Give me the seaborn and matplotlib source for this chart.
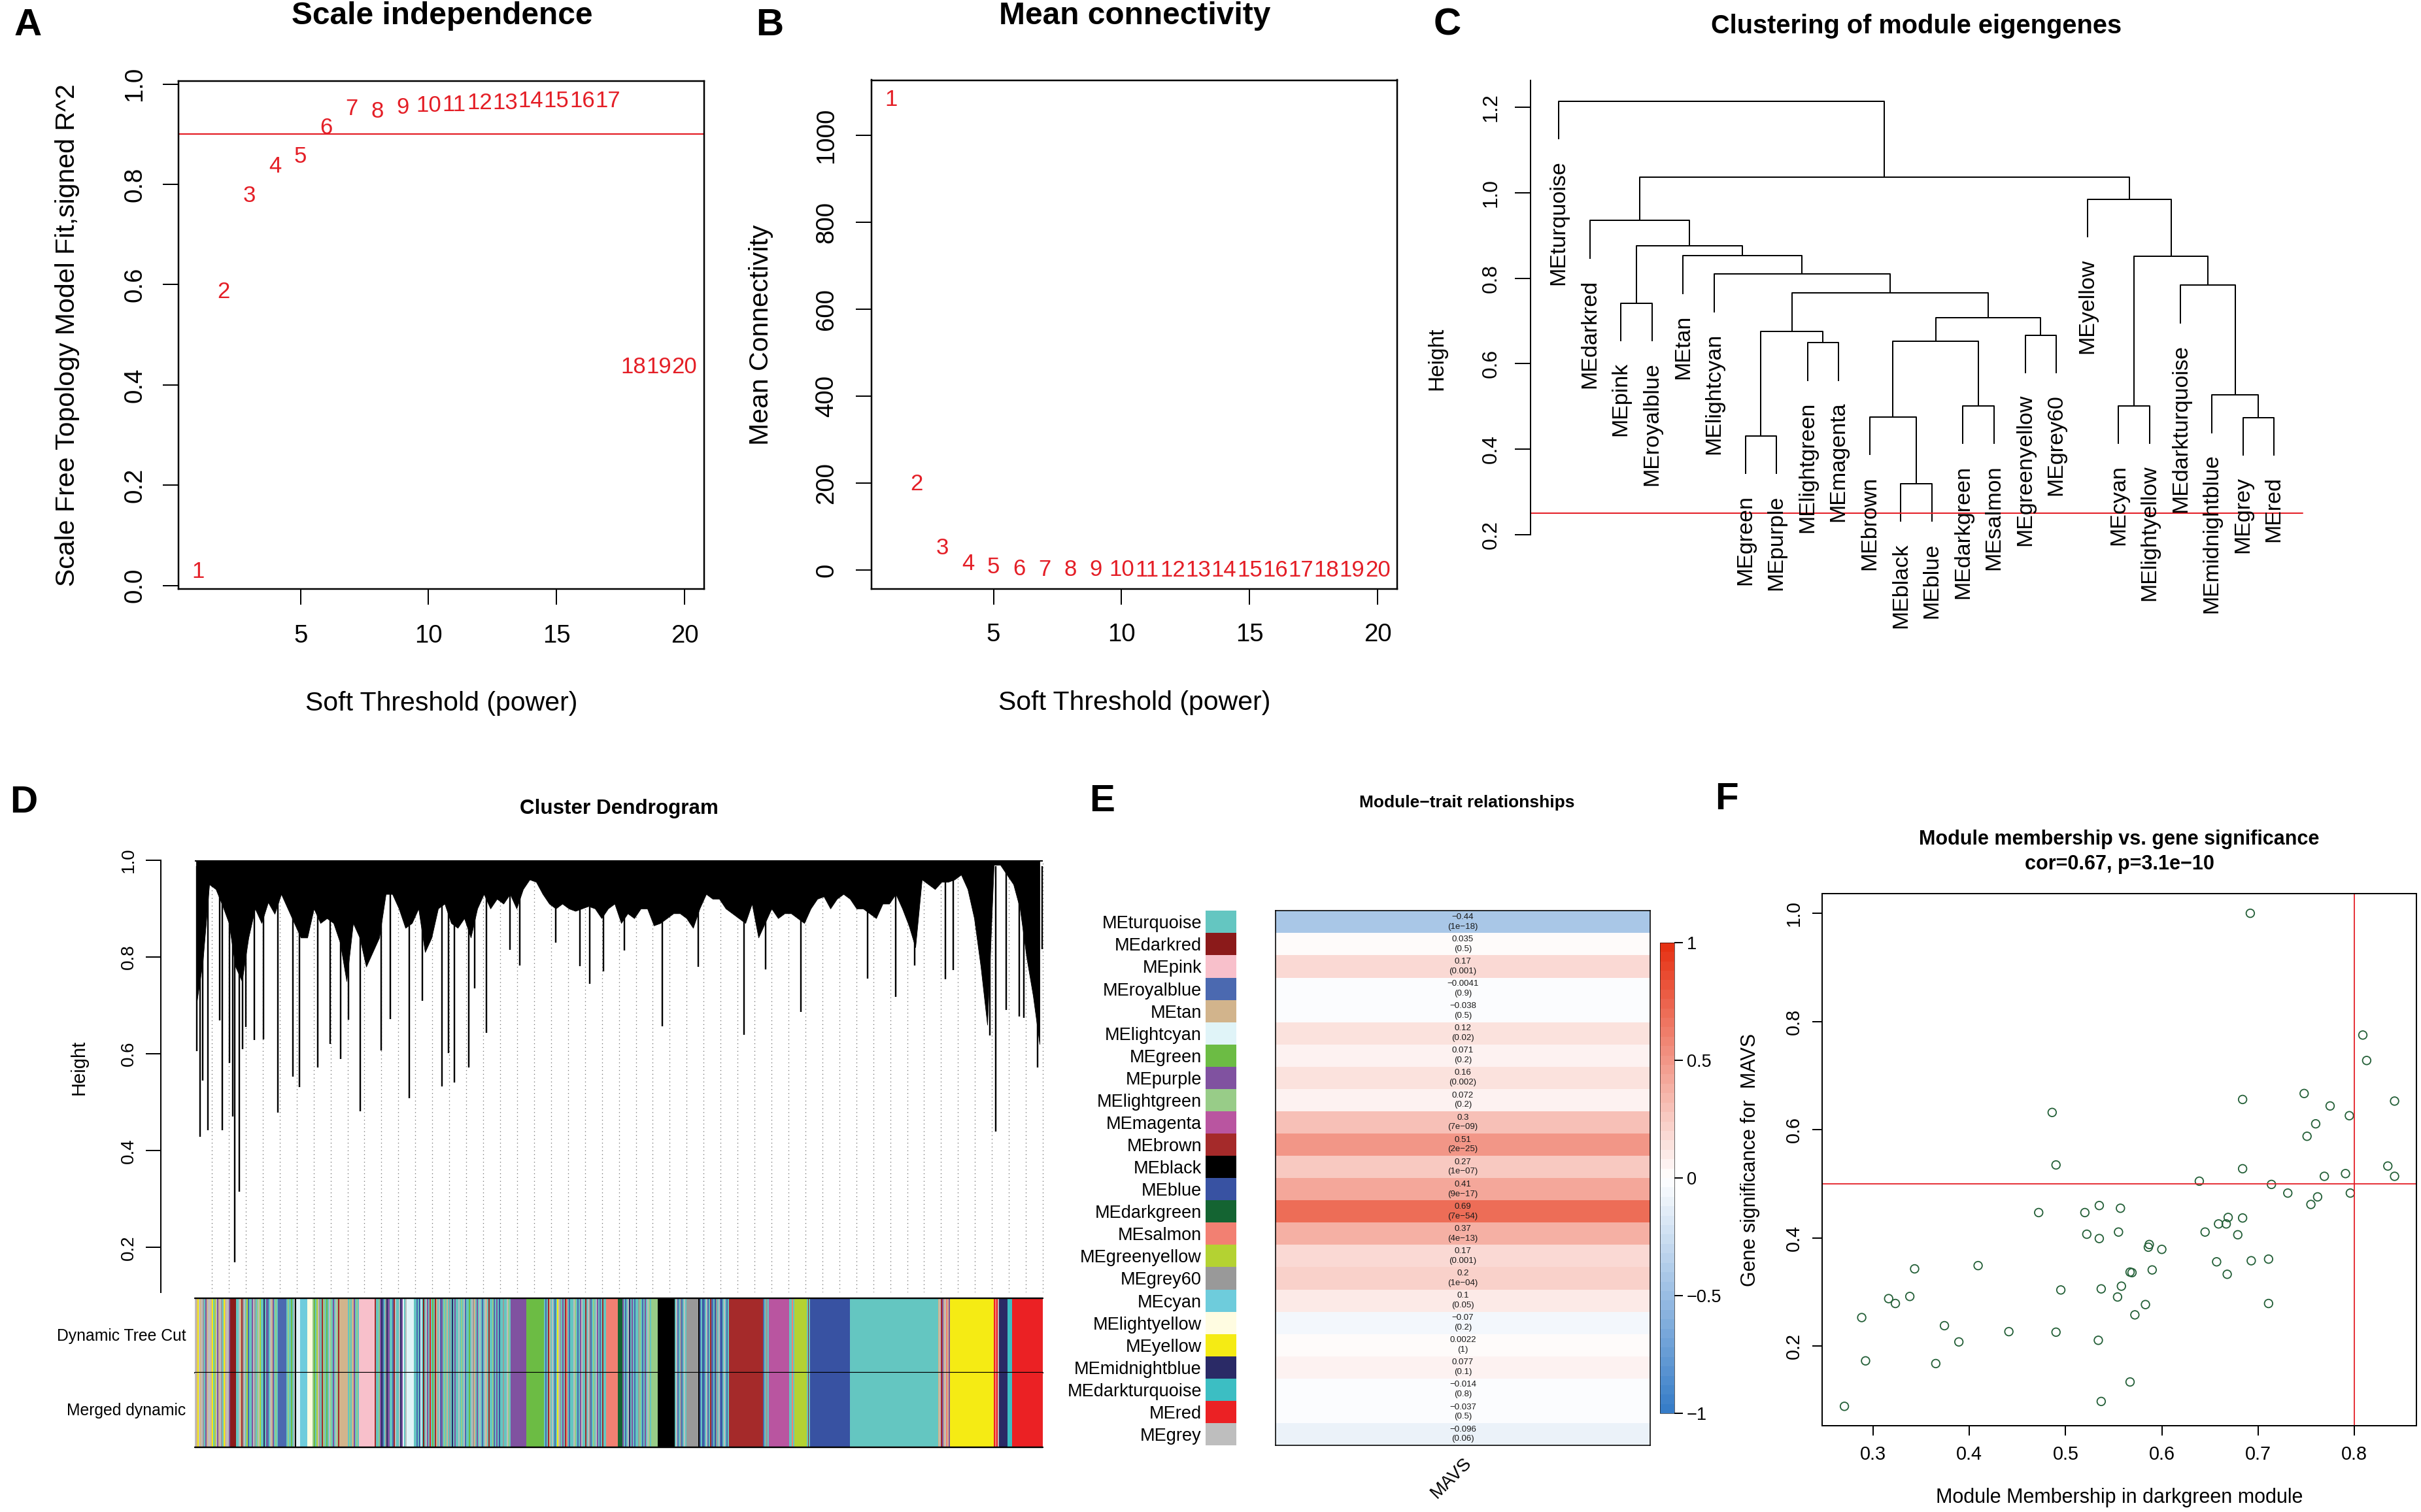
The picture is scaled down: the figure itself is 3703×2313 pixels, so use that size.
import numpy as np
import pandas as pd
import matplotlib
matplotlib.use("Agg")
import matplotlib.pyplot as plt
import seaborn as sns
from matplotlib.colors import ListedColormap

# ============================ DATA ============================
# --- A / B : soft threshold selection ---
POWERS = list(range(1, 21))
SFT_SIGNED_R2 = [0.028, 0.586, 0.777, 0.836, 0.856, 0.913, 0.951, 0.946, 0.954, 0.957,
                 0.959, 0.963, 0.963, 0.967, 0.967, 0.967, 0.967, 0.436, 0.436, 0.436]
R2_CUTOFF = 0.90
MEAN_CONNECTIVITY = [1083, 198, 50, 15, 6.5, 2.2, 1.2, 0.8, 0.6, 0.4,
                     0.3, 0.25, 0.2, 0.15, 0.12, 0.1, 0.08, 0.06, 0.05, 0.04]

# --- C : eigengene clustering (R hclust style merge table) ---
ME_LEAVES = ["MEturquoise", "MEdarkred", "MEpink", "MEroyalblue", "MEtan", "MElightcyan",
             "MEgreen", "MEpurple", "MElightgreen", "MEmagenta", "MEbrown", "MEblack",
             "MEblue", "MEdarkgreen", "MEsalmon", "MEgreenyellow", "MEgrey60", "MEyellow",
             "MEcyan", "MElightyellow", "MEdarkturquoise", "MEmidnightblue", "MEgrey", "MEred"]
ME_MERGE = [(-12, -13), (-7, -8), (-23, -24), (-11, 1), (-19, -20), (-14, -15), (-22, 3),
            (-9, -10), (4, 6), (-16, -17), (2, 8), (9, 10), (-3, -4), (11, 12), (-21, 7),
            (-6, 14), (5, 15), (-5, 16), (13, 18), (-2, 19), (-18, 17), (20, 21), (-1, 22)]
ME_HEIGHTS = [0.319, 0.431, 0.474, 0.475, 0.501, 0.501, 0.527, 0.649, 0.653, 0.667, 0.675,
              0.707, 0.742, 0.766, 0.784, 0.810, 0.852, 0.853, 0.876, 0.935, 0.985, 1.037, 1.215]
ME_CUT_HEIGHT = 0.25

# --- D : gene dendrogram (read approximately) ---
# lower edge of the dense branch mass, sampled evenly along the leaf order
GENE_TREE_PROFILE = [
    0.70, 0.79, 0.95, 0.94, 0.907, 0.87, 0.78, 0.75, 0.84, 0.90, 0.87, 0.913, 0.889, 0.93,
    0.90, 0.87, 0.84, 0.84, 0.90, 0.87, 0.88, 0.87, 0.83, 0.75, 0.87, 0.84, 0.78, 0.81,
    0.84, 0.93, 0.93, 0.90, 0.86, 0.87, 0.90, 0.81, 0.84, 0.90, 0.91, 0.87, 0.86, 0.88,
    0.84, 0.90, 0.93, 0.90, 0.92, 0.91, 0.93, 0.90, 0.94, 0.96, 0.955, 0.93, 0.91, 0.90,
    0.91, 0.90, 0.895, 0.90, 0.905, 0.90, 0.88, 0.90, 0.91,
    0.87, 0.89, 0.88, 0.90, 0.90, 0.865, 0.87, 0.88, 0.89, 0.89, 0.88, 0.86, 0.90, 0.93,
    0.92, 0.92, 0.90, 0.89, 0.88, 0.87, 0.91, 0.84, 0.87, 0.90, 0.88, 0.89, 0.89, 0.88,
    0.87, 0.90, 0.92, 0.925, 0.90, 0.92, 0.93, 0.92, 0.90, 0.90, 0.89, 0.88, 0.91, 0.91,
    0.93, 0.90, 0.865, 0.82, 0.96, 0.95, 0.94, 0.955, 0.955, 0.96, 0.97, 0.94, 0.88, 0.78,
    0.66, 0.99, 0.99, 0.97, 0.95, 0.90, 0.80, 0.72, 0.62]
GENE_PROFILE_SPAN = (0.0015, 0.9961)   # leaf-order fraction covered by the profile samples
GENE_SPIKE_POS = [0.0019, 0.0058, 0.0090, 0.0155, 0.0295, 0.0327, 0.0408, 0.0447, 0.0466,
                  0.0522, 0.0561, 0.0603, 0.0700, 0.0807, 0.0982, 0.1154, 0.1236, 0.1446,
                  0.1599, 0.1716, 0.1814, 0.1950, 0.2193, 0.2307, 0.2527, 0.2686, 0.2917,
                  0.2989, 0.3059, 0.3231, 0.3303, 0.3436, 0.3719, 0.3832, 0.4254, 0.4540,
                  0.4659, 0.4822, 0.5065, 0.5516, 0.5938, 0.6474, 0.6728, 0.7147, 0.7931,
                  0.8267, 0.8490, 0.8853, 0.8942, 0.9374, 0.9446, 0.9568, 0.9719, 0.9775,
                  0.9940, 0.9957, 0.9990]
GENE_SPIKE_HEIGHT = [0.606, 0.429, 0.545, 0.442, 0.669, 0.442, 0.581, 0.470, 0.169, 0.315,
                     0.609, 0.655, 0.628, 0.630, 0.479, 0.553, 0.531, 0.572, 0.621, 0.589,
                     0.670, 0.482, 0.607, 0.672, 0.509, 0.710, 0.532, 0.601, 0.541, 0.572,
                     0.735, 0.643, 0.815, 0.783, 0.829, 0.781, 0.745, 0.770, 0.813, 0.657,
                     0.779, 0.639, 0.774, 0.687, 0.755, 0.717, 0.782, 0.754, 0.773, 0.638,
                     0.440, 0.690, 0.677, 0.674, 0.572, 0.644, 0.816]
N_GUIDES = 50
GENE_TREE_TOP = 0.998

# module colour strip: solid blocks (module, n genes) and mixed runs ("mix", n genes, codes)
DYNAMIC_SEGMENTS = [
    ("mix", 54, "eTyeTe6tuTeeTytYeuTe6tyTeeu"), ("darkred", 9),
    ("mix", 64, "tteTn6etYRttue6tGeYttMtuRteTutGt"), ("royalblue", 13),
    ("mix", 15, "tGtgtek"), ("lightcyan", 6), ("cyan", 11), ("lightyellow", 8),
    ("mix", 41, "GgtYe6tnGtgteGtuteGn"), ("tan", 13), ("mix", 17, "tGtTutGt"), ("pink", 24),
    ("mix", 49, "nttGuMRt6MuttRnetteMuCte"), ("lightcyan", 11),
    ("mix", 148, "ttRtbCtdteutrtgtnTteRutGtTt6tMtuttetGteRttgte6TtutetRteTtnttGRtutbtt6tteGt"),
    ("purple", 24), ("green", 27),
    ("mix", 95, "tRtnTtetRtye6tutnstRtteGtRtuettnte6RtGteutRtntt"), ("salmon", 18),
    ("darkgreen", 7), ("mix", 44, "utRteMtutRtt6GtRtuteGt"), ("lightgreen", 10), ("black", 26),
    ("mix", 18, "teRt6Rtet"), ("grey60", 18), ("mix", 47, "kRtbRteRtnRtb6teRbtetRt"),
    ("brown", 52), ("mix", 11, "Rt6tm"), ("magenta", 29), ("mix", 8, "ttst"),
    ("greenyellow", 19), ("mix", 5, "tnt"), ("blue", 61), ("turquoise", 135),
    ("mix", 18, "TenuTesTu"), ("yellow", 67), ("mix", 8, "rsre"), ("midnightblue", 13),
    ("darkturquoise", 7), ("red", 47)]
MERGED_SEGMENTS = DYNAMIC_SEGMENTS
COLOR_ROW_LABELS = ["Dynamic Tree Cut", "Merged dynamic"]

# --- E : module-trait relationships ---
TRAIT_MODULES = ["MEturquoise", "MEdarkred", "MEpink", "MEroyalblue", "MEtan", "MElightcyan",
                 "MEgreen", "MEpurple", "MElightgreen", "MEmagenta", "MEbrown", "MEblack",
                 "MEblue", "MEdarkgreen", "MEsalmon", "MEgreenyellow", "MEgrey60", "MEcyan",
                 "MElightyellow", "MEyellow", "MEmidnightblue", "MEdarkturquoise", "MEred",
                 "MEgrey"]
TRAIT_COR = [-0.44, 0.035, 0.17, -0.0041, -0.038, 0.12, 0.071, 0.16, 0.072, 0.3, 0.51, 0.27,
             0.41, 0.69, 0.37, 0.17, 0.2, 0.1, -0.07, 0.0022, 0.077, -0.014, -0.037, -0.096]
TRAIT_P = ["1e-18", "0.5", "0.001", "0.9", "0.5", "0.02", "0.2", "0.002", "0.2", "7e-09",
           "2e-25", "1e-07", "9e-17", "7e-54", "4e-13", "0.001", "1e-04", "0.05", "0.2", "1",
           "0.1", "0.8", "0.5", "0.06"]
TRAIT_NAME = "MAVS"

# --- F : module membership vs gene significance ---
MM_DARKGREEN = [0.692, 0.809, 0.813, 0.748, 0.684, 0.842, 0.486, 0.775, 0.795, 0.760, 0.751,
                0.490, 0.684, 0.835, 0.791, 0.769, 0.842, 0.639, 0.714, 0.731, 0.796, 0.762,
                0.755, 0.535, 0.557, 0.472, 0.520, 0.669, 0.684, 0.659, 0.667, 0.645, 0.555,
                0.522, 0.679, 0.535, 0.587, 0.586, 0.600, 0.711, 0.693, 0.657, 0.409, 0.343,
                0.590, 0.567, 0.569, 0.668, 0.558, 0.495, 0.537, 0.338, 0.316, 0.554, 0.323,
                0.583, 0.711, 0.572, 0.288, 0.374, 0.441, 0.490, 0.389, 0.534, 0.292, 0.365,
                0.567, 0.537, 0.270]
GS_MAVS = [1.000, 0.775, 0.728, 0.667, 0.656, 0.653, 0.632, 0.644, 0.626, 0.611, 0.588,
           0.535, 0.528, 0.533, 0.519, 0.514, 0.514, 0.505, 0.499, 0.483, 0.483, 0.476,
           0.462, 0.460, 0.455, 0.447, 0.447, 0.438, 0.437, 0.426, 0.426, 0.411, 0.411,
           0.407, 0.406, 0.399, 0.388, 0.383, 0.379, 0.361, 0.358, 0.356, 0.349, 0.343,
           0.341, 0.337, 0.336, 0.333, 0.311, 0.304, 0.306, 0.292, 0.288, 0.291, 0.279,
           0.277, 0.279, 0.258, 0.253, 0.238, 0.227, 0.226, 0.208, 0.211, 0.173, 0.168,
           0.134, 0.098, 0.089]
MM_CUT = 0.8
GS_CUT = 0.5
F_TITLE = ["Module membership vs. gene significance", "cor=0.67, p=3.1e\u221210"]

# ============================ STYLE ============================
MODULE_COLORS = {
    "turquoise": "#64C6C1", "darkred": "#8B1A1A", "pink": "#F8C0CB", "royalblue": "#4B69B0",
    "tan": "#D2B48C", "lightcyan": "#E0F4F8", "green": "#6CBC44", "purple": "#8052A0",
    "lightgreen": "#98CC88", "magenta": "#B955A0", "brown": "#A52A2A", "black": "#000000",
    "blue": "#3852A2", "darkgreen": "#146432", "salmon": "#F28072", "greenyellow": "#B4D232",
    "grey60": "#999999", "cyan": "#6ECCDC", "lightyellow": "#FFFCE1", "yellow": "#F5EB14",
    "midnightblue": "#2A2A66", "darkturquoise": "#3CBEC3", "red": "#EB2124", "grey": "#BEBEBE"}
CODE = {"t": "turquoise", "b": "blue", "n": "brown", "y": "yellow", "g": "green", "r": "red",
        "k": "black", "p": "pink", "m": "magenta", "u": "purple", "Y": "greenyellow", "T": "tan",
        "s": "salmon", "c": "cyan", "M": "midnightblue", "C": "lightcyan", "6": "grey60",
        "G": "lightgreen", "L": "lightyellow", "R": "royalblue", "d": "darkred",
        "D": "darkgreen", "X": "darkturquoise", "e": "grey"}
RED = "#E41E26"
PT_GREEN = "#235F37"

sns.set_style("ticks", {"axes.edgecolor": "black", "xtick.color": "black",
                        "ytick.color": "black", "text.color": "black"})
plt.rcParams["font.family"] = ["Liberation Sans", "DejaVu Sans"]
plt.rcParams["axes.unicode_minus"] = True

W, H, DPI = 3703, 2313, 100
PT = 72.0 / DPI
fig = plt.figure(figsize=(W / DPI, H / DPI), dpi=DPI)
fig.patch.set_facecolor("white")


def px_axes(l, t, r, b):
    return fig.add_axes([l / W, 1 - b / H, (r - l) / W, (b - t) / H])


def ftext(x, y, s, **kw):
    kw.setdefault("ha", "center")
    kw.setdefault("va", "center")
    fig.text(x / W, 1 - y / H, s, **kw)


def r_axes_style(ax, tick_len, xpad, ypad, labelsize, lw=2.5):
    for s in ax.spines.values():
        s.set_linewidth(lw * PT)
        s.set_color("black")
    ax.tick_params(axis="both", direction="out", length=tick_len * PT, width=2 * PT,
                   labelsize=labelsize, colors="black")
    ax.tick_params(axis="x", pad=xpad * PT, bottom=True)
    ax.tick_params(axis="y", pad=ypad * PT, left=True)
    for lab in ax.get_yticklabels():
        lab.set_rotation(90)
        lab.set_va("center")


def fmt_tick(v, nd):
    return f"{v:.{nd}f}"


# panel letters
for letter, (x, y) in zip("ABCDEF", [(42.5, 39), (1177.6, 39), (2214, 39),
                                     (36.6, 1228), (1686, 1226), (2641, 1223)]):
    ftext(x, y, letter, fontsize=42, fontweight="bold")

# ============================ A ============================
axA = px_axes(273.3, 123.9, 1076.7, 901.2)
for p, v in zip(POWERS, SFT_SIGNED_R2):
    axA.text(p, v, str(p), color=RED, fontsize=25, ha="center", va="center", clip_on=False)
axA.axhline(R2_CUTOFF, color=RED, lw=2.2 * PT)
axA.set_xlim(0.24, 20.76)
axA.set_ylim(-0.0074, 1.0064)
axA.set_xticks([5, 10, 15, 20])
yt = np.round(np.arange(0, 1.01, 0.2), 1)
axA.set_yticks(yt)
axA.set_yticklabels([fmt_tick(v, 1) for v in yt])
r_axes_style(axA, 24, 29.4, 25.2, 27.6)
ftext(676, 24.8, "Scale independence", fontsize=34.5, fontweight="bold")
ftext(675, 1076, "Soft Threshold (power)", fontsize=29.5)
ftext(102.6, 512.5, "Scale Free Topology Model Fit,signed R^2", fontsize=29.5, rotation=90)

# ============================ B ============================
axB = px_axes(1333.1, 122.5, 2136.9, 901.2)
for p, v in zip(POWERS, MEAN_CONNECTIVITY):
    axB.text(p, v, str(p), color=RED, fontsize=25, ha="center", va="center", clip_on=False)
axB.set_xlim(0.24, 20.76)
axB.set_ylim(-43.6, 1127.7)
axB.set_xticks([5, 10, 15, 20])
axB.set_yticks([0, 200, 400, 600, 800, 1000])
r_axes_style(axB, 24, 28, 26.7, 27.6)
ftext(1735.3, 24.8, "Mean connectivity", fontsize=34.5, fontweight="bold")
ftext(1735, 1075, "Soft Threshold (power)", fontsize=29.5)
ftext(1164, 512, "Mean Connectivity", fontsize=29.5, rotation=90)

# ============================ C ============================
axC = px_axes(2341.1, 122.5, 3560, 817.6)
axC.set_xlim(0.096, 25.72)
axC.set_ylim(0.2, 1.264)
hang = 0.1 * (max(ME_HEIGHTS) - min(ME_HEIGHTS))
node_x = {}


def child_pos(c, parent_h):
    if c < 0:
        return float(-c), parent_h - hang
    return node_x[c], ME_HEIGHTS[c - 1]


for k, (a, b) in enumerate(ME_MERGE, start=1):
    h = ME_HEIGHTS[k - 1]
    xa, ya = child_pos(a, h)
    xb, yb = child_pos(b, h)
    node_x[k] = (xa + xb) / 2
    axC.plot([xa, xa, xb, xb], [ya, h, h, yb], color="black", lw=2 * PT,
             solid_capstyle="butt", clip_on=False)
    for c, xc, yc in ((a, xa, ya), (b, xb, yb)):
        if c < 0:
            axC.annotate(ME_LEAVES[-c - 1], (xc, yc), xytext=(0, -32 * PT),
                         textcoords="offset points", rotation=90, ha="center", va="top",
                         fontsize=24.5, annotation_clip=False)
axC.axhline(ME_CUT_HEIGHT, xmin=0, xmax=0.969, color=RED, lw=2 * PT, clip_on=False)
for s in ("top", "right", "bottom"):
    axC.spines[s].set_visible(False)
axC.spines["left"].set_bounds(0.2, 1.264)
axC.set_xticks([])
ct = np.round(np.arange(0.2, 1.21, 0.2), 1)
axC.set_yticks(ct)
axC.set_yticklabels([fmt_tick(v, 1) for v in ct])
r_axes_style(axC, 24.4, 0, 20.7, 22.7, lw=2)
axC.tick_params(axis="x", bottom=False)
axC.patch.set_alpha(0)
ftext(2930.6, 40.4, "Clustering of module eigengenes", fontsize=28.6, fontweight="bold")
ftext(2197.4, 548.6, "Height", fontsize=24, rotation=90)

# ============================ D ============================
axD = px_axes(245.8, 1300, 1600, 1977.3)
axD.set_xlim(-0.0403, 1.0038)
axD.set_ylim(0.107, 1.0213)
guide_x = np.arange(1, N_GUIDES + 1) / N_GUIDES
axD.vlines(guide_x, 0.107, GENE_TREE_TOP, colors="#6E6E6E", linestyles=(0, (1, 3.5)),
           lw=1.3 * PT, zorder=1)
prof_x = np.linspace(GENE_PROFILE_SPAN[0], GENE_PROFILE_SPAN[1], len(GENE_TREE_PROFILE))
axD.fill_between(prof_x, GENE_TREE_PROFILE, GENE_TREE_TOP, color="black",
                 edgecolor="black", lw=0.8 * PT, zorder=2)
axD.vlines(GENE_SPIKE_POS, GENE_SPIKE_HEIGHT, GENE_TREE_TOP - 0.01, colors="black",
           lw=2.4 * PT, zorder=3)
axD.hlines(GENE_TREE_TOP, 0, 1, colors="black", lw=2 * PT, zorder=3)
for s in ("top", "right", "bottom"):
    axD.spines[s].set_visible(False)
axD.spines["left"].set_bounds(0.107, 1.0)
axD.set_xticks([])
dt = np.round(np.arange(0.2, 1.01, 0.2), 1)
axD.set_yticks(dt)
axD.set_yticklabels([fmt_tick(v, 1) for v in dt])
r_axes_style(axD, 23, 0, 13, 20, lw=2)
axD.tick_params(axis="x", bottom=False)
ftext(946.6, 1236.5, "Cluster Dendrogram", fontsize=22.6, fontweight="bold")
ftext(120.3, 1632.8, "Height", fontsize=21, rotation=90)


def draw_color_row(ax, segments):
    starts, widths, cols = [], [], []
    pos = 0.0
    for seg in segments:
        if seg[0] == "mix":
            w, codes = seg[1], seg[2]
            sw = w / len(codes)
            for j, ch in enumerate(codes):
                starts.append(pos + j * sw)
                widths.append(sw)
                cols.append(MODULE_COLORS[CODE[ch]])
            pos += w
        else:
            starts.append(pos)
            widths.append(seg[1])
            cols.append(MODULE_COLORS[seg[0]])
            pos += seg[1]
    ax.bar(starts, 1, width=widths, align="edge", color=cols, linewidth=0, antialiased=False)
    ax.set_xlim(0, pos)
    ax.set_ylim(0, 1)
    ax.axis("off")


axDyn = px_axes(298.1, 1985.7, 1595, 2100)
draw_color_row(axDyn, DYNAMIC_SEGMENTS)
axMer = px_axes(298.1, 2100, 1595, 2213.7)
draw_color_row(axMer, MERGED_SEGMENTS)
for ax_, ys in ((axDyn, (0, 1)), (axMer, (0,))):
    for yv in ys:
        ax_.axhline(yv, color="black", lw=2.4 * PT, clip_on=False)
ftext(284.5, 2044, COLOR_ROW_LABELS[0], fontsize=17.8, ha="right")
ftext(284.5, 2157.6, COLOR_ROW_LABELS[1], fontsize=17.8, ha="right")

# ============================ E ============================
blue_end = np.array([55, 125, 200]) / 255.0
red_end = np.array([230, 50, 20]) / 255.0
bwr = []
for v in np.linspace(-1, 1, 50):
    if v < 0:
        bwr.append(tuple(1 + v * (1 - blue_end)))
    else:
        bwr.append(tuple(1 - v * (1 - red_end)))
cmapE = ListedColormap(bwr)

axE = px_axes(1951.1, 1393.3, 2523.7, 2211)
caxE = px_axes(2538.8, 1441.7, 2560.6, 2162.3)
dfE = pd.DataFrame({TRAIT_NAME: TRAIT_COR}, index=TRAIT_MODULES)
annotE = np.array([[f"{c:.2g}".replace("-", "\u2212") + "\n(" + p.replace("-", "\u2212") + ")"]
                   for c, p in zip(TRAIT_COR, TRAIT_P)])
sns.heatmap(dfE, ax=axE, cmap=cmapE, vmin=-1, vmax=1, annot=annotE, fmt="",
            annot_kws={"fontsize": 9.5, "color": "#1a1a1a", "linespacing": 1.3},
            cbar_ax=caxE, yticklabels=False, xticklabels=[TRAIT_NAME])
for s in axE.spines.values():
    s.set_visible(True)
    s.set_linewidth(1.6 * PT)
    s.set_color("black")
axE.set_xticklabels([TRAIT_NAME], rotation=45, ha="right", rotation_mode="anchor", fontsize=20)
axE.tick_params(axis="x", length=0, pad=14 * PT, bottom=True)
axE.tick_params(axis="y", left=False)
axE.set_xlabel("")
axE.set_ylabel("")
caxE.set_yticks([-1, -0.5, 0, 0.5, 1])
caxE.set_yticklabels(["\u22121", "\u22120.5", "0", "0.5", "1"])
caxE.tick_params(length=13 * PT, width=2 * PT, labelsize=19.5, pad=6 * PT, right=True)
for s in caxE.spines.values():
    s.set_linewidth(0.6 * PT)

axS = px_axes(1843.9, 1393.3, 1890.5, 2211)
axS.barh(np.arange(len(TRAIT_MODULES)), 1, height=1,
         color=[MODULE_COLORS[m[2:]] for m in TRAIT_MODULES], linewidth=0, antialiased=False)
axS.set_ylim(len(TRAIT_MODULES) - 0.5, -0.5)
axS.set_xlim(0, 1)
axS.set_yticks(np.arange(len(TRAIT_MODULES)))
axS.set_yticklabels(TRAIT_MODULES, fontsize=19.5)
axS.set_xticks([])
axS.tick_params(axis="y", length=0, pad=6 * PT)
for s in axS.spines.values():
    s.set_visible(False)
ftext(2243.5, 1228, "Module\u2212trait relationships", fontsize=19, fontweight="bold")

# ============================ F ============================
axF = px_axes(2787.1, 1367.3, 3696.1, 2180.8)
sns.scatterplot(x=MM_DARKGREEN, y=GS_MAVS, ax=axF, marker="o", s=82,
                facecolor="none", edgecolor=PT_GREEN, linewidth=1.3)
axF.axvline(MM_CUT, color=RED, lw=1.8 * PT)
axF.axhline(GS_CUT, color=RED, lw=1.8 * PT)
axF.set_xlim(0.2469, 0.8648)
axF.set_ylim(0.0534, 1.036)
xt = np.round(np.arange(0.3, 0.81, 0.1), 1)
axF.set_xticks(xt)
axF.set_xticklabels([fmt_tick(v, 1) for v in xt])
yF = np.round(np.arange(0.2, 1.01, 0.2), 1)
axF.set_yticks(yF)
axF.set_yticklabels([fmt_tick(v, 1) for v in yF])
r_axes_style(axF, 15, 15.6, 14.4, 20.7, lw=2)
ftext(3241.6, 1283.9, F_TITLE[0], fontsize=22, fontweight="bold")
ftext(3241.6, 1321.9, F_TITLE[1], fontsize=22, fontweight="bold")
ftext(3241.6, 2290.6, "Module Membership in darkgreen module", fontsize=22)
ftext(2676.6, 1774, "Gene significance for  MAVS", fontsize=22, rotation=90)

fig.savefig("out.png", dpi=DPI, facecolor="white")
